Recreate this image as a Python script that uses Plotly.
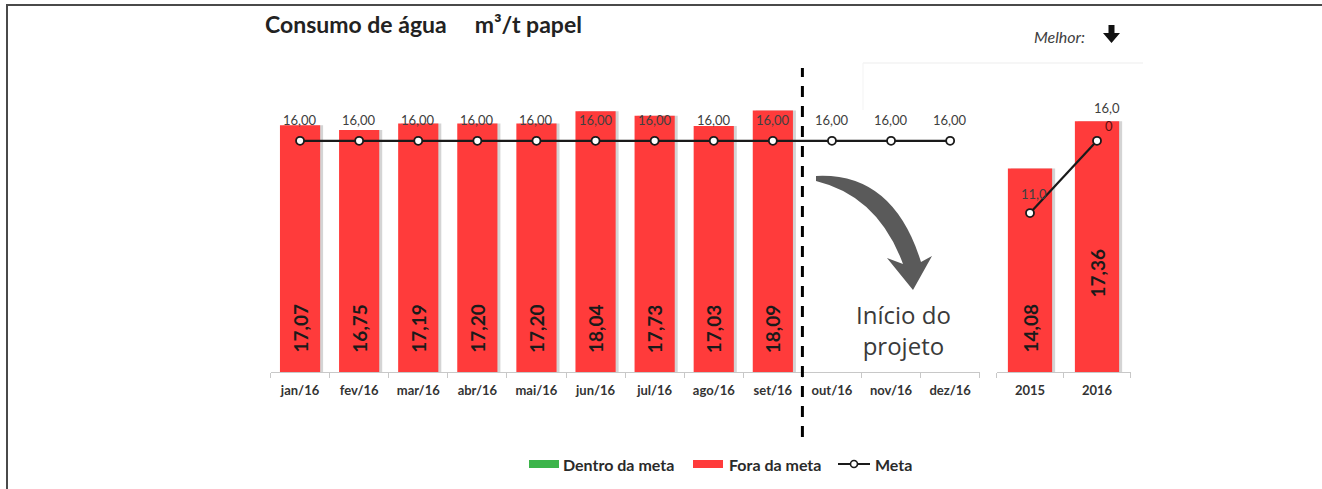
import plotly.graph_objects as go

# --- data -------------------------------------------------------------
meses = ["jan/16", "fev/16", "mar/16", "abr/16", "mai/16", "jun/16",
         "jul/16", "ago/16", "set/16", "out/16", "nov/16", "dez/16"]
consumo_mes = [17.07, 16.75, 17.19, 17.20, 17.20, 18.04, 17.73, 17.03, 18.09,
               None, None, None]
meta_mes = [16.00] * 12

anos = ["2015", "2016"]
consumo_ano = [14.08, 17.36]
meta_ano = [11.00, 16.00]

# --- page geometry helpers (pixel -> paper) -----------------------------
W, H = 1322, 489


def xp(px):
    return px / W


def yp(py):
    return 1 - py / H


def br(v, nd=2):
    return f"{v:.{nd}f}".replace(".", ",")


RED = "#FF3B3B"
GREEN = "#3CB44A"
TXT = "#3a3a3a"
FONT = "Lato"
SHADOW = "rgba(60,60,60,0.22)"

BW_MES, BW_ANO = 0.68, 0.66

fig = go.Figure()

# soft drop shadow behind the monthly bars
fig.add_trace(go.Bar(
    x=meses, y=consumo_mes, marker=dict(color=SHADOW, line=dict(width=0)),
    width=BW_MES, offset=-BW_MES / 2 + 0.05, xaxis="x", yaxis="y",
    showlegend=False, hoverinfo="skip",
))
# bars: monthly consumption
fig.add_trace(go.Bar(
    x=meses, y=consumo_mes, marker=dict(color=RED, line=dict(width=0)),
    width=BW_MES, offset=-BW_MES / 2, xaxis="x", yaxis="y",
    showlegend=False, hoverinfo="x+y",
))
# meta line (monthly)
fig.add_trace(go.Scatter(
    x=meses, y=meta_mes, mode="lines+markers",
    line=dict(color="#1a1a1a", width=2.2),
    marker=dict(symbol="circle", size=8, color="white",
                line=dict(color="#1a1a1a", width=1.8)),
    xaxis="x", yaxis="y", showlegend=False, cliponaxis=False,
))

# soft drop shadow behind the yearly bars
fig.add_trace(go.Bar(
    x=anos, y=consumo_ano, marker=dict(color=SHADOW, line=dict(width=0)),
    width=BW_ANO, offset=-BW_ANO / 2 + 0.045, xaxis="x2", yaxis="y",
    showlegend=False, hoverinfo="skip",
))
# bars: yearly consumption
fig.add_trace(go.Bar(
    x=anos, y=consumo_ano, marker=dict(color=RED, line=dict(width=0)),
    width=BW_ANO, offset=-BW_ANO / 2, xaxis="x2", yaxis="y",
    showlegend=False, hoverinfo="x+y",
))
# meta line (yearly)
fig.add_trace(go.Scatter(
    x=anos, y=meta_ano, mode="lines+markers",
    line=dict(color="#1a1a1a", width=2.2),
    marker=dict(symbol="circle", size=8, color="white",
                line=dict(color="#1a1a1a", width=1.8)),
    xaxis="x2", yaxis="y", showlegend=False, cliponaxis=False,
))

annotations = []
val_font = dict(family=FONT, size=19, color="#1a1a1a", weight="bold")
meta_font = dict(family=FONT, size=13, color="#404040")

# monthly meta labels above the markers
for i, v in enumerate(meta_mes):
    annotations.append(dict(
        x=i, y=v, xref="x", yref="y", text=br(v), showarrow=False,
        yanchor="middle", yshift=21, font=meta_font,
    ))

# rotated value labels inside bars
for i, v in enumerate(consumo_mes):
    if v is None:
        continue
    annotations.append(dict(
        x=i, y=0, xref="x", yref="y", text=br(v), textangle=-90,
        showarrow=False, yanchor="bottom", xanchor="center", yshift=17,
        font=val_font,
    ))
for i, (v, sh) in enumerate(zip(consumo_ano, [17, 72])):
    annotations.append(dict(
        x=i, y=0, xref="x2", yref="y", text=br(v), textangle=-90,
        showarrow=False, yanchor="bottom", xanchor="center", yshift=sh,
        font=val_font,
    ))

# yearly meta labels (wrapped like the original cell width)
lab15 = br(meta_ano[0])
annotations.append(dict(
    x=0, y=meta_ano[0], xref="x2", yref="y", text=lab15[:-1],
    showarrow=False, yanchor="middle", yshift=19, xshift=4, font=meta_font,
))
lab16 = br(meta_ano[1])
annotations.append(dict(
    x=1, y=meta_ano[1], xref="x2", yref="y", text=lab16[:-1],
    showarrow=False, yanchor="middle", yshift=33, xshift=10, font=meta_font,
))
annotations.append(dict(
    x=1, y=meta_ano[1], xref="x2", yref="y", text=lab16[-1],
    showarrow=False, yanchor="middle", yshift=15, xshift=12,
    font=dict(family=FONT, size=13, color="#5a1010"),
))

# title and "Melhor" hint
annotations.append(dict(
    x=xp(263), y=yp(24), xref="paper", yref="paper", xanchor="left",
    yanchor="middle", showarrow=False,
    text="Consumo de água&nbsp;&nbsp;&nbsp;&nbsp;&nbsp;m³/t papel",
    font=dict(family=FONT, size=23, color="#222222", weight="bold"),
))
annotations.append(dict(
    x=xp(1087), y=yp(36), xref="paper", yref="paper", xanchor="right",
    yanchor="middle", showarrow=False, text="<i>Melhor:</i>",
    font=dict(family=FONT, size=16, color="#404040"),
))

# project start note
annotations.append(dict(
    x=xp(903), y=yp(330), xref="paper", yref="paper", xanchor="center",
    yanchor="middle", showarrow=False, text="Início do<br>projeto",
    font=dict(family="Open Sans", size=24, color=TXT),
))

# manual legend texts
leg_font = dict(family=FONT, size=16, color="#2a2a2a", weight="bold")
for px, label in [(561, "Dentro da meta"), (727, "Fora da meta"), (873, "Meta")]:
    annotations.append(dict(
        x=xp(px), y=yp(464), xref="paper", yref="paper", xanchor="left",
        yanchor="middle", showarrow=False, text=label, font=leg_font,
    ))

shapes = []

# frame lines (top and left)
shapes.append(dict(type="line", xref="paper", yref="paper",
                   x0=xp(6), x1=1, y0=yp(5), y1=yp(5),
                   line=dict(color="#4a4a4a", width=2)))
shapes.append(dict(type="line", xref="paper", yref="paper",
                   x0=xp(7), x1=xp(7), y0=yp(5), y1=0,
                   line=dict(color="#4a4a4a", width=2)))

# faint chart-area remnants in the upper right
shapes.append(dict(type="line", xref="paper", yref="paper",
                   x0=xp(863), x1=xp(1143), y0=yp(63), y1=yp(63),
                   line=dict(color="#ededed", width=1)))
shapes.append(dict(type="line", xref="paper", yref="paper",
                   x0=xp(863), x1=xp(863), y0=yp(63), y1=yp(110),
                   line=dict(color="#f3f3f3", width=1)))

# dashed separator between set/16 and out/16
shapes.append(dict(type="line", xref="x", yref="paper", x0=8.5, x1=8.5,
                   y0=yp(437), y1=yp(68),
                   line=dict(color="#000000", width=3, dash="11px,9px")))


def svg(cmds):
    out = []
    for c in cmds:
        if isinstance(c, str):
            out.append(c)
        else:
            out.append(f"{xp(c[0]):.5f},{yp(c[1]):.5f}")
    return " ".join(out)


# curved arrow
arrow = svg(["M", (816, 176), "Q", (893, 172), (921, 262), "L", (932, 256),
             "L", (913, 290), "L", (887, 258), "L", (903, 264),
             "Q", (878, 196), (816, 181), "Z"])
shapes.append(dict(type="path", xref="paper", yref="paper", path=arrow,
                   fillcolor="#5a5a5a", line=dict(width=0)))

# "Melhor" down arrow
down = svg(["M", (1108.5, 25), "L", (1114.5, 25), "L", (1114.5, 33),
            "L", (1120, 33), "L", (1111.5, 43), "L", (1103, 33),
            "L", (1108.5, 33), "Z"])
shapes.append(dict(type="path", xref="paper", yref="paper", path=down,
                   fillcolor="#111111", line=dict(width=0)))

# legend swatches
shapes.append(dict(type="rect", xref="paper", yref="paper",
                   x0=xp(529), x1=xp(559), y0=yp(468), y1=yp(460),
                   fillcolor=GREEN, line=dict(width=0)))
shapes.append(dict(type="rect", xref="paper", yref="paper",
                   x0=xp(693), x1=xp(723), y0=yp(468), y1=yp(460),
                   fillcolor=RED, line=dict(width=0)))
shapes.append(dict(type="line", xref="paper", yref="paper",
                   x0=xp(838), x1=xp(870), y0=yp(464), y1=yp(464),
                   line=dict(color="#1a1a1a", width=2)))
shapes.append(dict(type="circle", xref="paper", yref="paper",
                   x0=xp(850.5), x1=xp(857.5), y0=yp(467.5), y1=yp(460.5),
                   fillcolor="white", line=dict(color="#1a1a1a", width=1.6)))

axis_common = dict(
    type="category", showgrid=False, zeroline=False, showline=True,
    linecolor="#c8c8c8", linewidth=1, ticks="outside", tickson="boundaries",
    ticklen=5, tickcolor="#c8c8c8", ticklabelstandoff=6,
    tickfont=dict(family=FONT, size=13, color="#333333", weight="bold"),
    fixedrange=True,
)

fig.update_layout(
    width=W, height=H, autosize=False,
    margin=dict(l=0, r=0, t=0, b=0, pad=0),
    paper_bgcolor="white", plot_bgcolor="rgba(0,0,0,0)",
    barmode="overlay", showlegend=False,
    xaxis=dict(domain=[xp(270.5), xp(979.7)], range=[-0.5, 11.5],
               anchor="y", **axis_common),
    xaxis2=dict(domain=[xp(996.5), xp(1130.5)], range=[-0.5, 1.5],
                anchor="y", **axis_common),
    yaxis=dict(domain=[yp(372), yp(83)], range=[0, 20], visible=False,
               fixedrange=True),
    annotations=annotations,
    shapes=shapes,
)

fig.write_html("out.html")
